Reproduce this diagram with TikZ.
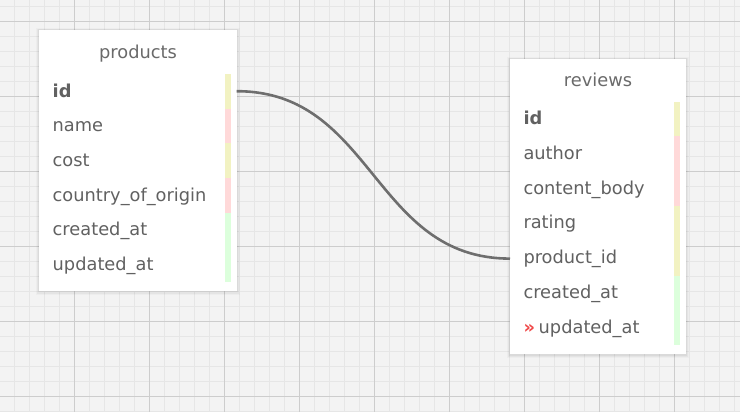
\documentclass[tikz,border=0pt]{standalone}
\usepackage{fontspec}
\setmainfont{DejaVu Sans}
\definecolor{bg}{HTML}{F3F3F3}
\definecolor{minorc}{HTML}{E6E6E6}
\definecolor{majorc}{HTML}{CDCDCD}
\definecolor{txt}{HTML}{616161}
\definecolor{ttl}{HTML}{6A6A6A}
\definecolor{barY}{HTML}{F2F2C2}
\definecolor{barR}{HTML}{FFD9D9}
\definecolor{barG}{HTML}{DCFFDC}
\definecolor{linkc}{HTML}{6E6E6E}
\definecolor{chev}{HTML}{F04848}
\newcommand\ershadow[4]{%
  \fill[black,opacity=0.025] (#1-3,#2-2) rectangle (#3+3,#4+4);
  \fill[black,opacity=0.035] (#1-2,#2-1) rectangle (#3+2,#4+3);
  \fill[black,opacity=0.045] (#1-1,#2-0.5) rectangle (#3+1,#4+1.5);
}
\begin{document}
\begin{tikzpicture}[x=1pt,y=-1pt,
  minorline/.style={draw=minorc,line width=1pt},
  majorline/.style={draw=majorc,line width=1pt},
  tablebox/.style={fill=white,draw=none,inner sep=0,outer sep=0,anchor=north west},
  tabletitle/.style={anchor=base,text=ttl,font=\fontsize{17.8}{20}\selectfont,inner sep=0},
  field/.style={anchor=base west,text=txt,font=\fontsize{17.8}{20}\selectfont,inner sep=0},
  pkfield/.style={anchor=base west,text=txt,font=\fontsize{17.8}{20}\selectfont\bfseries,inner sep=0},
  chevron/.style={anchor=base west,text=chev,font=\fontsize{17.8}{20}\selectfont\bfseries,inner sep=0},
  relation/.style={draw=linkc,line width=2.6pt}
]
\useasboundingbox (0,0) rectangle (740,412);
\fill[bg] (0,0) rectangle (740,412);
% grid
\foreach \x in {14,29,...,734} \draw[minorline] (\x,0) -- (\x,412);
\foreach \y in {6.7,21.7,...,411.7} \draw[minorline] (0,\y) -- (740,\y);
\foreach \x in {74,149,...,674} \draw[majorline] (\x,0) -- (\x,412);
\foreach \y in {21.7,96.7,...,396.7} \draw[majorline] (0,\y) -- (740,\y);

% products table
\ershadow{39}{30}{236.7}{290.7}
\node[tablebox,minimum width=197.7pt,minimum height=260.7pt] (prod) at (39,30) {};
\node[tabletitle] (prodtitle) at (138,58.3) {products};
\fill[barY] (225,74) rectangle (231,108.6);
\fill[barR] (225,108.6) rectangle (231,143.2);
\fill[barY] (225,143.2) rectangle (231,177.9);
\fill[barR] (225,177.9) rectangle (231,212.5);
\fill[barG] (225,212.5) rectangle (231,281.7);
\node[pkfield] (p-id) at (52.5,97.1) {id};
\node[field] (p-name) at (52.5,131.7) {name};
\node[field] (p-cost) at (52.5,166.3) {cost};
\node[field] (p-country) at (52.5,201) {country\_of\_origin};
\node[field] (p-created) at (52.5,235.6) {created\_at};
\node[field] (p-updated) at (52.5,270.2) {updated\_at};
\coordinate (p-idrow) at (138,91.2);

% reviews table
\ershadow{510}{59}{685.7}{354}
\node[tablebox,minimum width=175.7pt,minimum height=295pt] (rev) at (510,59) {};
\node[tabletitle] (revtitle) at (598,86.7) {reviews};
\fill[barY] (674,101.7) rectangle (680,136.5);
\fill[barR] (674,136.5) rectangle (680,206);
\fill[barY] (674,206) rectangle (680,275.7);
\fill[barG] (674,275.7) rectangle (680,345);
\node[pkfield] (r-id) at (523.3,124.7) {id};
\node[field] (r-author) at (523.3,159.4) {author};
\node[field] (r-content) at (523.3,194.2) {content\_body};
\node[field] (r-rating) at (523.3,228.9) {rating};
\node[field] (r-product) at (523.3,263.7) {product\_id};
\node[field] (r-created) at (523.3,298.5) {created\_at};
\node[chevron] (r-chev) at (523.5,333.2) {»};
\node[field] (r-updated) at (538.5,333.2) {updated\_at};
\coordinate (r-productrow) at (598,258.6);

% relation
\draw[relation] (prod.east |- p-idrow) .. controls +(137,0) and +(-137,0) .. (rev.west |- r-productrow);
\end{tikzpicture}
\end{document}
